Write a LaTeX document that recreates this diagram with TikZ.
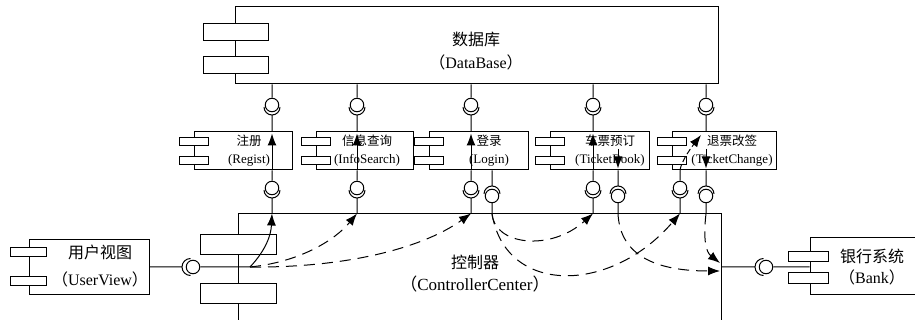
\documentclass[tikz,border=0pt]{standalone}
\usepackage{fontspec}
\setmainfont{Liberation Serif}
\newfontfamily\cjk{Noto Sans CJK SC}
\usetikzlibrary{arrows.meta}
\tikzset{ %
  ,>={Latex[length=12pt,width=9pt]}
  ,comp/.style={draw, rectangle, fill=white, inner sep=0}
  ,tab/.style={draw, rectangle, fill=white, inner sep=0, minimum width=29pt, minimum height=7.5pt}
  ,ball/.style={draw, circle, fill=white, inner sep=0, minimum size=13.5pt}
  ,big/.style={align=center, inner sep=0, font=\fontsize{16}{21}\selectfont}
  ,small/.style={align=center, inner sep=0, font=\fontsize{13}{18}\selectfont}
  ,flow/.style={->, dash pattern=on 11pt off 7pt}
}

\begin{document}
\begin{tikzpicture}[x=1pt, y=-1pt, line width=1pt]
  \clip (0,0) rectangle (915,320);
  % database
  \node[comp, minimum width=483pt, minimum height=77pt] (db) at (476.5,45.5) {};
  \node[tab, minimum width=65pt, minimum height=17pt] (db1) at (235.5,32.5) {};
  \node[tab, minimum width=65pt, minimum height=17pt] (db2) at (235.5,65.5) {};
  \node[big] (dbtxt) at (476,51.5) {{\cjk 数据库}\\[2pt]{\cjk （}DataBase{\cjk ）}};
  % controller
  \node[comp, minimum width=483pt, minimum height=140pt] (ctl) at (479.5,284) {};
  \node[tab, minimum width=76pt, minimum height=20pt] (ctl1) at (238,245) {};
  \node[tab, minimum width=76pt, minimum height=20pt] (ctl2) at (238,293) {};
  \node[big, font=\fontsize{17}{22}\selectfont] (ctltxt) at (475,274) {{\cjk\fontsize{16}{22}\selectfont 控制器}\\{\cjk （}ControllerCenter{\cjk ）}};
  % user view and bank
  \node[comp, minimum width=120pt, minimum height=54pt] (uv) at (89,267) {};
  \node[tab, minimum width=36pt, minimum height=9pt] (uv1) at (28,252.5) {};
  \node[tab, minimum width=36pt, minimum height=9pt] (uv2) at (28,280.5) {};
  \node[big] (uvtxt) at (100,266.5) {{\cjk 用户视图}\\[6pt]{\cjk （}UserView{\cjk ）}};
  \node[comp, minimum width=120pt, minimum height=56pt] (bank) at (870,266) {};
  \node[tab, minimum width=40pt, minimum height=10.5pt] (bank1) at (808,256.5) {};
  \node[tab, minimum width=40pt, minimum height=10.5pt] (bank2) at (808,278) {};
  \node[big] (banktxt) at (872,267.5) {{\cjk 银行系统}\\{\cjk （}Bank{\cjk ）}};

  % services
  \foreach \n/\x/\w/\lx/\zhname/\enname in {reg/243/98/249/注册/Regist, inf/364.5/97/367/信息查询/InfoSearch,
      log/478.5/99/489/登录/Login, bok/599.5/99/610/车票预订/TicketBook, chg/724/104/732/退票改签/TicketChange}{
    \node[comp, minimum width=\w pt, minimum height=38pt] (\n) at (\x,151) {};
    \node[tab] (\n1) at (\n.west |- 0,141.5) {};
    \node[tab] (\n2) at (\n.west |- 0,160.5) {};
    \node[small] (\n txt) at (\lx,151) {{\cjk\fontsize{12.5}{18}\selectfont \zhname}\\(\enname)};
  }

  % interfaces of the database
  \foreach \n/\x in {reg/272, inf/357, log/471, bok/593, chg/706}{
    \node[ball] (u\n) at (\x,105) {};
    \draw (db.south -| u\n) -- (u\n)
      ([xshift=-8pt,yshift=-2pt]u\n.center) arc[start angle=180, end angle=360, radius=8pt]
      ([yshift=-10pt]u\n.center) -- (\n.north -| u\n);
  }
  % interfaces towards the controller
  \foreach \n/\x in {reg/272, inf/357, log/471, bok/593, chg/680}{
    \node[ball] (l\n) at (\x,188) {};
    \draw (\n.south -| l\n) -- (l\n)
      ([xshift=-8pt,yshift=-2pt]l\n.center) arc[start angle=180, end angle=360, radius=8pt]
      ([yshift=-10pt]l\n.center) -- (ctl.north -| l\n);
  }
  \foreach \n/\x in {log/492, bok/618, chg/706}{
    \node[ball] (r\n) at (\x,196) {};
    \draw (\n.south -| r\n) -- ([yshift=10pt]r\n.center)
      ([xshift=8pt,yshift=2pt]r\n.center) arc[start angle=0, end angle=180, radius=8pt]
      (r\n) -- (ctl.north -| r\n);
  }
  % user view and bank ports
  \node[ball] (uvb) at (193,267) {};
  \node[ball] (bkb) at (766,267) {};
  \coordinate (hub) at (250,267);
  \draw (uv.east |- uvb) -- ([xshift=-11pt]uvb.center)
    ([xshift=-2.5pt,yshift=8.5pt]uvb.center) arc[start angle=90, end angle=270, radius=8.5pt]
    (uvb) -- (hub);
  \draw (ctl.east |- bkb) -- ([xshift=-11pt]bkb.center)
    ([xshift=-2.5pt,yshift=8.5pt]bkb.center) arc[start angle=90, end angle=270, radius=8.5pt]
    (bkb) -- (bank.west |- bkb);

  % flows inside the services
  \foreach \n in {reg, inf, log, bok}
    \draw[->, shorten >=2pt] (\n.south -| l\n) -- (\n.north -| l\n);
  \draw[->, dash pattern=on 6pt off 3pt] (chg.south -| lchg) .. controls +(1,-10) and +(-7,9) .. (701,135);
  \foreach \n in {bok, chg}
    \draw[->, shorten >=2pt] (r\n |- 0,149) -- (r\n |- \n.south);

  % flows inside the controller
  \coordinate (in1) at (720,271);
  \coordinate (in2) at (720,263);
  \draw[->] (hub) .. controls (266,250) and (271,235) .. (lreg |- ctl.north);
  \draw[flow] (hub) .. controls (300,262) and (335,240) .. (linf |- ctl.north);
  \draw[flow] (hub) .. controls (340,268) and (420,250) .. (llog |- ctl.north);
  \draw[flow] (rlog |- ctl.north) .. controls (494,245) and (550,252) .. (lbok |- ctl.north);
  \draw[flow] (rlog |- ctl.north) .. controls (505,295) and (610,295) .. (lchg |- ctl.north);
  \draw[flow] (rbok |- ctl.north) .. controls (620,258) and (660,271) .. (in1);
  \draw[flow] (rchg |- ctl.north) .. controls (703,240) and (706,252) .. (in2);
\end{tikzpicture}
\end{document}
